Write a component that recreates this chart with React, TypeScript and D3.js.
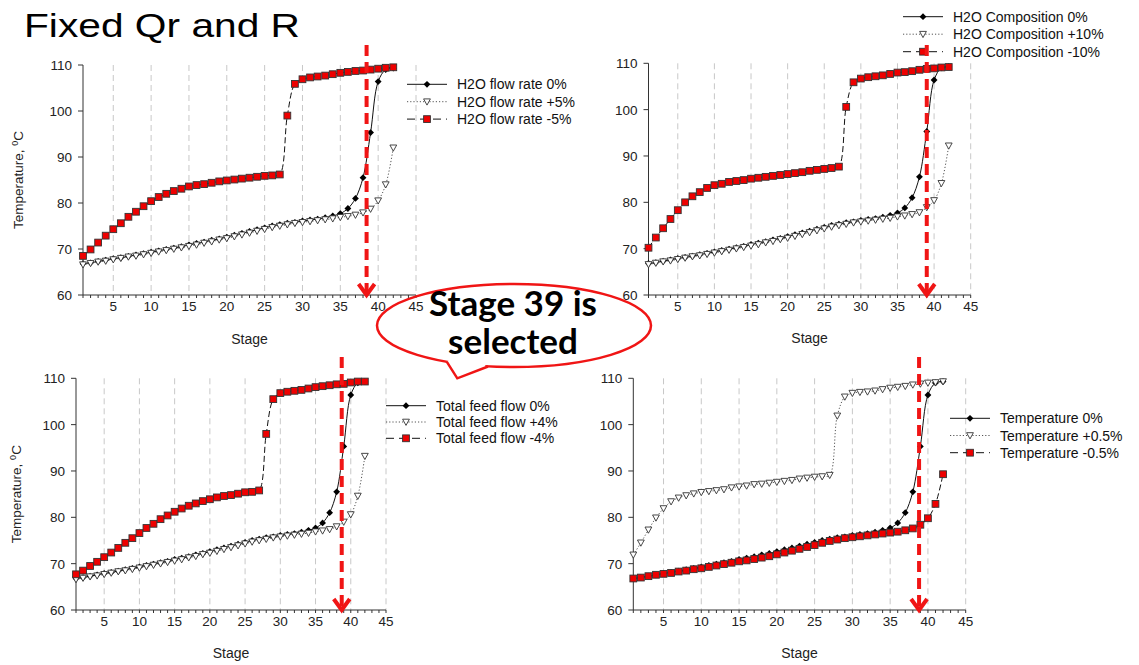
import React from 'react';
import * as d3 from 'd3';

// stages on the x axis, 1..42
const stages = d3.range(1, 43);

// base case, same in every panel
const base0 = [66.8, 67.0, 67.3, 67.6, 67.9, 68.1, 68.4, 68.7, 69.0, 69.3, 69.6, 69.9, 70.2, 70.5, 70.9, 71.2, 71.5, 71.9, 72.2, 72.6, 73.0, 73.4, 73.8, 74.2, 74.6, 75.0, 75.3, 75.6, 75.8, 76.1, 76.3, 76.5, 76.8, 77.2, 77.7, 78.8, 81.0, 85.5, 95.3, 106.4, 109.0, 109.3];

const flowPlus5 = [66.6, 66.9, 67.2, 67.4, 67.7, 68.0, 68.3, 68.5, 68.8, 69.1, 69.4, 69.7, 70.0, 70.3, 70.6, 70.9, 71.3, 71.6, 72.0, 72.3, 72.7, 73.1, 73.5, 73.9, 74.3, 74.7, 75.0, 75.3, 75.6, 75.8, 76.0, 76.2, 76.4, 76.6, 76.9, 77.1, 77.4, 77.9, 78.7, 80.5, 84.0, 92.0];
const flowMinus5 = [68.5, 69.9, 71.4, 72.9, 74.3, 75.6, 77.0, 78.1, 79.3, 80.4, 81.3, 82.0, 82.6, 83.1, 83.6, 83.9, 84.1, 84.4, 84.7, 84.9, 85.1, 85.3, 85.5, 85.7, 85.9, 86.0, 86.2, 99.0, 105.9, 106.9, 107.3, 107.5, 107.7, 108.0, 108.3, 108.5, 108.7, 108.8, 109.0, 109.2, 109.4, 109.5];

const compPlus10 = [66.6, 66.9, 67.2, 67.4, 67.7, 68.0, 68.3, 68.5, 68.8, 69.1, 69.4, 69.7, 70.0, 70.3, 70.6, 70.9, 71.3, 71.6, 72.0, 72.3, 72.7, 73.1, 73.5, 73.9, 74.3, 74.7, 75.0, 75.3, 75.6, 75.8, 76.0, 76.2, 76.4, 76.6, 76.9, 77.1, 77.4, 77.8, 78.9, 80.4, 84.1, 92.2];
const compMinus10 = [70.2, 72.4, 74.4, 76.4, 78.3, 80.0, 81.3, 82.2, 83.1, 83.7, 84.0, 84.4, 84.6, 84.8, 85.1, 85.3, 85.5, 85.7, 85.9, 86.1, 86.3, 86.5, 86.8, 87.0, 87.2, 87.4, 87.7, 100.6, 105.9, 106.7, 107.0, 107.2, 107.4, 107.7, 108.0, 108.1, 108.3, 108.6, 108.8, 108.9, 109.1, 109.2];

const feedPlus4 = [66.6, 66.9, 67.2, 67.4, 67.7, 68.0, 68.3, 68.5, 68.8, 69.1, 69.4, 69.7, 70.0, 70.3, 70.6, 70.9, 71.3, 71.6, 72.0, 72.3, 72.7, 73.1, 73.5, 73.9, 74.3, 74.7, 75.0, 75.3, 75.6, 75.8, 76.0, 76.2, 76.4, 76.6, 76.9, 77.1, 77.4, 78.0, 79.0, 80.6, 84.6, 93.2];
const feedMinus4 = [67.7, 68.5, 69.5, 70.4, 71.4, 72.4, 73.4, 74.5, 75.5, 76.6, 77.7, 78.6, 79.6, 80.4, 81.2, 81.9, 82.5, 83.0, 83.5, 83.9, 84.3, 84.6, 84.8, 85.1, 85.4, 85.5, 85.8, 98.0, 105.5, 106.8, 107.1, 107.3, 107.5, 107.8, 108.1, 108.3, 108.5, 108.7, 108.8, 109.1, 109.3, 109.3];

const tempPlus05 = [71.9, 74.5, 77.3, 79.9, 81.9, 83.4, 84.2, 84.7, 85.1, 85.4, 85.6, 85.8, 86.0, 86.4, 86.6, 86.8, 87.1, 87.2, 87.4, 87.6, 87.8, 88.0, 88.3, 88.5, 88.7, 88.8, 89.1, 101.9, 106.0, 106.8, 107.0, 107.1, 107.3, 107.6, 107.9, 108.1, 108.3, 108.6, 108.8, 109.0, 109.1, 109.3];
const tempMinus05 = [66.8, 67.0, 67.3, 67.6, 67.8, 68.0, 68.3, 68.5, 68.8, 69.0, 69.3, 69.6, 69.9, 70.2, 70.5, 70.7, 71.0, 71.3, 71.6, 72.0, 72.4, 72.8, 73.2, 73.6, 74.0, 74.5, 74.9, 75.2, 75.5, 75.7, 75.9, 76.1, 76.3, 76.5, 76.7, 76.9, 77.2, 77.6, 78.4, 79.8, 82.9, 89.3];

const xTicks = [5, 10, 15, 20, 25, 30, 35, 40, 45];
const yTicks = [60, 70, 80, 90, 100, 110];

const flowLabels = ['H2O flow rate 0%', 'H2O flow rate +5%', 'H2O flow rate -5%'];
const compLabels = ['H2O Composition 0%', 'H2O Composition +10%', 'H2O Composition -10%'];
const feedLabels = ['Total feed flow 0%', 'Total feed flow +4%', 'Total feed flow -4%'];
const tempLabels = ['Temperature 0%', 'Temperature +0.5%', 'Temperature -0.5%'];

const selectedStage = 39;

const FONT = 'Liberation Sans, Arial, sans-serif';
const RED = '#f01515';

// where each chart sits on the slide; arrowDx = hand-drawn arrow offset
const panels = [
  { x1: 83, x45: 416, yTop: 65, yBot: 295, yLabel: 23, labels: flowLabels, series: [base0, flowPlus5, flowMinus5], lx: 407, ly: 84.3, ldy: 17.4, arrowTop: 45, arrowDx: -4, stageY: 344 },
  { x1: 648.5, x45: 970.7, yTop: 63.3, yBot: 295, yLabel: 0, labels: compLabels, series: [base0, compPlus10, compMinus10], lx: 903, ly: 16.7, ldy: 17.5, arrowTop: 45, arrowDx: 0, stageY: 343 },
  { x1: 76, x45: 386, yTop: 378.3, yBot: 610, yLabel: 21, labels: feedLabels, series: [base0, feedPlus4, feedMinus4], lx: 386, ly: 405.7, ldy: 16.3, arrowTop: 357, arrowDx: -2, stageY: 658 },
  { x1: 633.3, x45: 965.7, yTop: 378.3, yBot: 610, yLabel: 0, labels: tempLabels, series: [base0, tempPlus05, tempMinus05], lx: 950, ly: 418.3, ldy: 17.2, arrowTop: 357, arrowDx: -1.3, stageY: 658 },
];

const styles = [
  { stroke: '#111', dash: 'none', legendDash: 'none' },
  { stroke: '#555', dash: '1.2,2', legendDash: '1.2,2' },
  { stroke: '#111', dash: '6,3', legendDash: '8,5' },
];

const Marker = ({ kind, x, y }: { kind: number; x: number; y: number }) => {
  if (kind === 0) {
    return <path d={`M${x},${y - 3.4}L${x + 3.4},${y}L${x},${y + 3.4}L${x - 3.4},${y}Z`} fill="#000" />;
  }
  if (kind === 1) {
    return <path d={`M${x - 3.4},${y - 2.8}L${x + 3.4},${y - 2.8}L${x},${y + 3.4}Z`} fill="#fff" stroke="#333" strokeWidth={0.9} />;
  }
  return <rect x={x - 3.4} y={y - 3.4} width={6.8} height={6.8} fill="#ee0000" stroke="#333" strokeWidth={0.9} />;
};

const Panel = ({ p }: { p: typeof panels[0] }) => {
  const xs = d3.scaleLinear().domain([1, 45]).range([p.x1, p.x45]);
  const ys = d3.scaleLinear().domain([60, 110]).range([p.yBot, p.yTop]);
  const line = d3.line<number>()
    .x((_, i) => xs(stages[i]))
    .y((d) => ys(d))
    .curve(d3.curveCatmullRom.alpha(0.5));
  const ax = xs(selectedStage) + p.arrowDx;
  const midX = (xs(1) + xs(45)) / 2;

  return (
    <g>
      {/* vertical grid */}
      {xTicks.map((t) => (
        <line key={'g' + t} x1={xs(t)} x2={xs(t)} y1={p.yTop} y2={p.yBot} stroke="#c8c8c8" strokeDasharray="6,4" />
      ))}
      {/* axes */}
      <line x1={xs(1)} x2={xs(1)} y1={p.yTop} y2={p.yBot} stroke="#333" />
      <line x1={xs(1)} x2={xs(45)} y1={p.yBot} y2={p.yBot} stroke="#333" />
      {d3.range(1, 46).map((t) => (
        <line key={'m' + t} x1={xs(t)} x2={xs(t)} y1={p.yBot} y2={p.yBot + 3} stroke="#333" />
      ))}
      {yTicks.map((t) => (
        <g key={'y' + t}>
          <line x1={xs(1) - 5} x2={xs(1)} y1={ys(t)} y2={ys(t)} stroke="#333" />
          <text x={xs(1) - 11} y={ys(t) + 5} textAnchor="end" fontSize={13.5} fill="#222">{t}</text>
        </g>
      ))}
      {xTicks.map((t) => (
        <text key={'x' + t} x={xs(t)} y={p.yBot + 16} textAnchor="middle" fontSize={13.5} fill="#222">{t}</text>
      ))}
      <text x={midX} y={p.stageY} textAnchor="middle" fontSize={14} fill="#222">Stage</text>
      {p.yLabel > 0 && (
        <text transform={`translate(${p.yLabel},${(p.yTop + p.yBot) / 2}) rotate(-90)`} textAnchor="middle" fontSize={13.5} fill="#222">
          Temperature, <tspan baselineShift="super" fontSize={9}>0</tspan>C
        </text>
      )}
      {/* series */}
      {p.series.map((vals, k) => (
        <g key={'s' + k}>
          <path d={line(vals) || ''} fill="none" stroke={styles[k].stroke} strokeWidth={1} strokeDasharray={styles[k].dash} />
          {vals.map((v, i) => (
            <Marker key={i} kind={k} x={xs(stages[i])} y={ys(v)} />
          ))}
        </g>
      ))}
      {/* legend */}
      {p.labels.map((lab, k) => {
        const y = p.ly + k * p.ldy;
        return (
          <g key={'l' + k}>
            <line x1={p.lx} x2={p.lx + 40} y1={y} y2={y} stroke={styles[k].stroke} strokeDasharray={styles[k].legendDash} />
            <Marker kind={k} x={p.lx + 20} y={y} />
            <text x={p.lx + 50} y={y + 5} fontSize={14} fill="#111">{lab}</text>
          </g>
        );
      })}
      {/* selected stage arrow */}
      <line x1={ax} x2={ax} y1={p.arrowTop} y2={p.yBot - 3} stroke={RED} strokeWidth={4} strokeDasharray="11,6" />
      <polyline points={`${ax - 8},${p.yBot - 11} ${ax},${p.yBot} ${ax + 8},${p.yBot - 11}`} fill="none" stroke={RED} strokeWidth={4} />
    </g>
  );
};

export default function App() {
  return (
    <svg width={1139} height={665} style={{ display: 'block', position: 'absolute', left: 0, top: 0 }} fontFamily={FONT}>
      <rect width={1139} height={665} fill="#fff" />
      <text x={24} y={37} fontSize={33} textLength={276} lengthAdjust="spacingAndGlyphs" fill="#000">Fixed Qr and R</text>
      {panels.map((p, i) => (
        <Panel key={i} p={p} />
      ))}
      {/* callout */}
      <ellipse cx={514} cy={325.5} rx={137} ry={41.5} fill="none" stroke={RED} strokeWidth={2.5} />
      <path d="M446.7,361.7 L457.3,378.3 L488,368.3 L470,350 Z" fill="#fff" />
      <polyline points="446.7,361.7 457.3,378.3 488,366.5" fill="none" stroke={RED} strokeWidth={2.5} />
      <g fontFamily="Lato, 'Open Sans', sans-serif" fontWeight={700} fontSize={35} textAnchor="middle" fill="#000">
        <text x={513} y={316}>Stage 39 is</text>
        <text x={513} y={354}>selected</text>
      </g>
    </svg>
  );
}
